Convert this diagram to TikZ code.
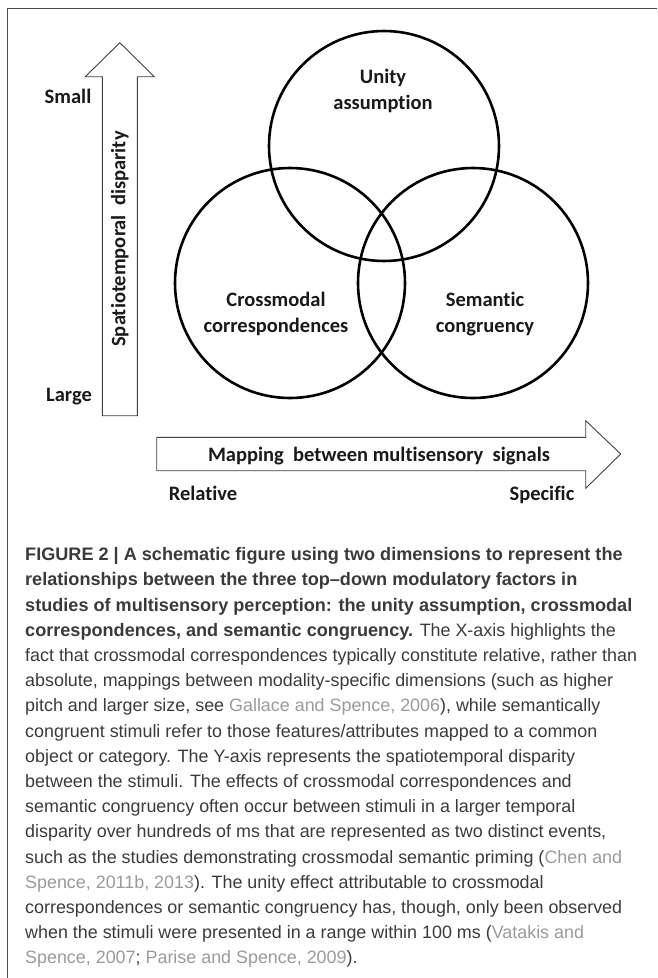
\documentclass[tikz,border=0pt]{standalone}
\usepackage{fontspec}
\setmainfont{Liberation Sans}
\newfontfamily\calibri[Ligatures=NoCommon]{Carlito}
\usepackage{xcolor}
\definecolor{capgray}{HTML}{3A3A3A}
\definecolor{citegray}{HTML}{9A9A9A}
\newcommand{\refc}[1]{\textcolor{citegray}{#1}}
\newcommand{\hd}[1]{{\fontsize{18.1}{25}\selectfont\bfseries #1}}
\tikzstyle{ring} = [line width=2.6pt, draw=black]
\tikzstyle{axis} = [line width=0.9pt, draw=black!75, line join=miter]
\tikzstyle{lbl} = [font=\calibri\bfseries\fontsize{20.5}{26}\selectfont, align=center, inner sep=0pt, text=black!90]
\tikzstyle{captext} = [font=\fontsize{17.9}{25}\selectfont, text=capgray, anchor=base west, inner sep=0pt]

\begin{document}
\begin{tikzpicture}[x=1pt, y=-1pt]
\useasboundingbox (0,0) rectangle (657,978);
\draw[line width=1.5pt, draw=black!70] (7.5,978) -- (7.5,8.5) -- (657,8.5);

\coordinate (cu) at (384,146);
\coordinate (cc) at (290,283);
\coordinate (cs) at (473,283);
\draw[ring] (cu) circle [radius=115pt];
\draw[ring] (cc) circle [radius=115pt];
\draw[ring] (cs) circle [radius=115pt];
\node[lbl] (unity) at (383,91) {Unity\\assumption};
\node[lbl] (cross) at (276,314) {Crossmodal\\correspondences};
\node[lbl] (seman) at (485,314) {Semantic\\congruency};

\draw[axis] (102.3,415.7) -- (102.3,76.7) -- (85.3,76.7) -- (119.8,42.7)
    -- (154.3,76.7) -- (137.3,76.7) -- (137.3,415.7) -- cycle;
\node[lbl, rotate=90] (disp) at (119.8,239) {Spatiotemporal\ \ disparity};
\node[lbl, anchor=base] (small) at (68,103.5) {Small};
\node[lbl, anchor=base] (large) at (69,401) {Large};

\draw[axis] (156.7,437.3) -- (585.7,437.3) -- (585.7,420.7) -- (620.7,454)
    -- (585.7,488.3) -- (585.7,470.7) -- (156.7,470.7) -- cycle;
\node[lbl] (mapping) at (379,456) {Mapping\ \ between multisensory\ \ signals};
\node[lbl, anchor=base] (relative) at (203,500) {Relative};
\node[lbl, anchor=base] (specific) at (542,500) {Specific};

\foreach \txt [count=\i] in {
    {\hd{FIGURE 2 | A schematic figure using two dimensions to represent the}},
    {\hd{relationships between the three top--down modulatory factors in}},
    {\hd{studies of multisensory perception: the unity assumption, crossmodal}},
    {\hd{correspondences, and semantic congruency.} The X-axis highlights the},
    {fact that crossmodal correspondences typically constitute relative, rather than},
    {absolute, mappings between modality-specific dimensions (such as higher},
    {pitch and larger size, see \refc{Gallace and Spence, 2006}), while semantically},
    {congruent stimuli refer to those features/attributes mapped to a common},
    {object or category. The Y-axis represents the spatiotemporal disparity},
    {between the stimuli. The effects of crossmodal correspondences and},
    {semantic congruency often occur between stimuli in a larger temporal},
    {disparity over hundreds of ms that are represented as two distinct events,},
    {such as the studies demonstrating crossmodal semantic priming (\refc{Chen and}},
    {\refc{Spence, 2011b, 2013}). The unity effect attributable to crossmodal},
    {correspondences or semantic congruency has, though, only been observed},
    {when the stimuli were presented in a range within 100 ms (\refc{Vatakis and}},
    {\refc{Spence, 2007}; \refc{Parise and Spence, 2009}).}}
    \node[captext] (line\i) at (25,560.7+25.2*\i-25.2) {\txt};
\end{tikzpicture}
\end{document}
